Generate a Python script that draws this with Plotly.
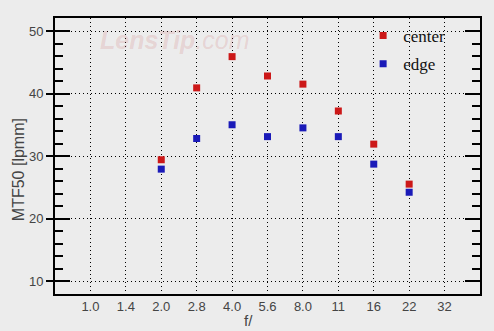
import plotly.graph_objects as go

f_labels = ["1.0", "1.4", "2.0", "2.8", "4.0", "5.6", "8.0", "11", "16", "22", "32"]
f_data = ["2.0", "2.8", "4.0", "5.6", "8.0", "11", "16", "22"]
center = [29.4, 40.9, 45.9, 42.8, 41.5, 37.2, 31.9, 25.5]
edge = [27.9, 32.8, 35.0, 33.1, 34.5, 33.1, 28.7, 24.2]

bg = "#ececec"
sans = "Liberation Sans, Arial, sans-serif"
tickfont = dict(family=sans, size=13, color="#444444")
yrange = [7.92, 52.08]

W, H, L, R, T, B = 494, 331, 55, 12, 18, 37
pw, ph = W - L - R, H - T - B

fig = go.Figure()
fig.add_trace(go.Scatter(x=f_data, y=center, mode="markers", name="center", legendgroup="c",
                         marker=dict(symbol="square", size=7, color="#cc1818")))
fig.add_trace(go.Scatter(x=f_data, y=edge, mode="markers", name="edge", legendgroup="e",
                         marker=dict(symbol="square", size=7, color="#1a1ab8")))
# empty helper traces so the overlay axes (dotted grid / outer ticks) are rendered
fig.add_trace(go.Scatter(x=[], y=[], yaxis="y2", showlegend=False, hoverinfo="skip"))
fig.add_trace(go.Scatter(x=[], y=[], yaxis="y3", showlegend=False, hoverinfo="skip"))

fig.update_layout(
    width=W, height=H,
    margin=dict(l=L, r=R, t=T, b=B),
    paper_bgcolor=bg, plot_bgcolor=bg,
    showlegend=True,
    legend=dict(x=0.725, y=1.0, xanchor="left", yanchor="top",
                bgcolor="rgba(0,0,0,0)", borderwidth=0,
                font=dict(family="Liberation Serif, Times New Roman, serif", size=17, color="#111111"),
                tracegroupgap=3),
    annotations=[
        dict(x=0.1, y=0.92, xref="paper", yref="paper", xanchor="left", yanchor="middle",
             text="<b><i>LensTip</i></b><i>.com</i>", showarrow=False,
             font=dict(family=sans, size=25, color="rgba(200,90,90,0.18)")),
        dict(x=(249 - L) / pw, y=(H - B - 320) / ph, xref="paper", yref="paper",
             xanchor="center", yanchor="middle", showarrow=False, text="f/",
             font=dict(family=sans, size=15, color="#444444")),
        dict(x=(18 - L) / pw, y=(H - B - 170) / ph, xref="paper", yref="paper",
             xanchor="center", yanchor="middle", showarrow=False, text="MTF50 [lpmm]", textangle=-90,
             font=dict(family=sans, size=16, color="#444444")),
    ],
    yaxis=dict(
        range=yrange, tick0=10, dtick=10,
        showline=True, linecolor="#000000", linewidth=1.5, mirror="allticks",
        showgrid=False, zeroline=False,
        ticks="inside", ticklen=15, tickcolor="#000000", tickwidth=1.5,
        minor=dict(dtick=2, ticks="inside", ticklen=8, tickcolor="#000000", tickwidth=1.5, showgrid=False),
        tickfont=tickfont, ticksuffix="\u00a0\u00a0",
    ),
    yaxis2=dict(
        overlaying="y", side="left", anchor="x", range=yrange, tick0=10, dtick=10,
        showgrid=True, gridcolor="#000000", gridwidth=1, griddash="1px,3px",
        showticklabels=False, ticks="", showline=False, zeroline=False,
    ),
    yaxis3=dict(
        overlaying="y", side="left", anchor="x", range=yrange, tick0=10, dtick=10,
        showgrid=False, showticklabels=False, showline=False, zeroline=False,
        ticks="outside", ticklen=8, tickcolor="#000000", tickwidth=1.5,
    ),
)

fig.update_xaxes(
    type="category", categoryorder="array", categoryarray=f_labels,
    tickvals=f_labels, ticktext=f_labels,
    range=[-1, 11],
    showline=True, linecolor="#000000", linewidth=1.5, mirror=True,
    showgrid=True, gridcolor="#000000", gridwidth=1, griddash="1px,3px",
    ticks="", tickfont=tickfont,
    zeroline=False,
)

fig.write_html("out.html")
